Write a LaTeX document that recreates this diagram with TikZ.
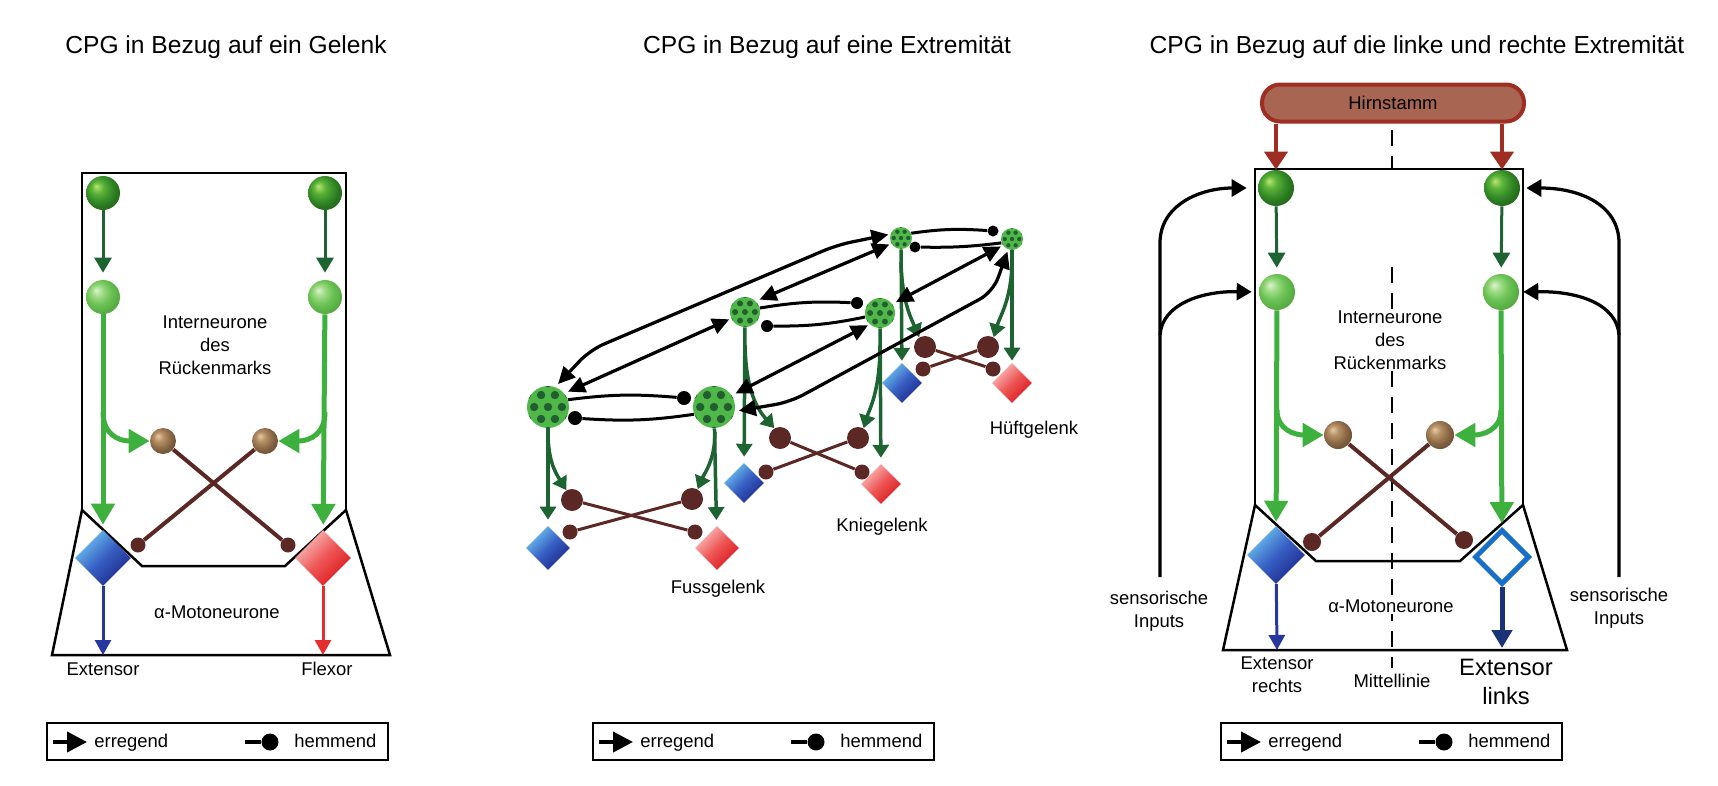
\documentclass[tikz,border=0pt]{standalone}
\usepackage{fontspec}
\setmainfont{Liberation Sans}
\usetikzlibrary{arrows.meta,shapes.geometric,positioning}

\definecolor{gdkline}{RGB}{30,100,50}
\definecolor{gltline}{RGB}{62,176,62}
\definecolor{maroon}{RGB}{92,40,38}
\definecolor{dotgr}{RGB}{80,184,72}
\definecolor{dotdk}{RGB}{34,95,48}
\definecolor{exlt}{RGB}{110,195,240}
\definecolor{exmd}{RGB}{55,95,195}
\definecolor{exdk}{RGB}{30,40,140}
\definecolor{fllt}{RGB}{250,190,190}
\definecolor{flmd}{RGB}{238,85,85}
\definecolor{fldk}{RGB}{215,25,30}
\definecolor{exline}{RGB}{40,55,160}
\definecolor{flline}{RGB}{230,45,45}
\definecolor{hirnf}{RGB}{168,102,82}
\definecolor{hirnd}{RGB}{158,45,35}
\definecolor{exout}{RGB}{25,110,200}
\definecolor{navy}{RGB}{25,50,120}

%% sphere shadings for the neurones
\pgfdeclareradialshading{sphdk}{\pgfqpoint{-10bp}{10bp}}{rgb(0bp)=(0.72,0.9,0.45); rgb(9bp)=(0.36,0.7,0.22); rgb(18bp)=(0.22,0.56,0.16); rgb(25bp)=(0.16,0.46,0.12); rgb(50bp)=(0.06,0.25,0.05)}
\pgfdeclareradialshading{sphlt}{\pgfqpoint{-10bp}{10bp}}{rgb(0bp)=(0.86,0.95,0.8); rgb(9bp)=(0.6,0.85,0.5); rgb(18bp)=(0.42,0.76,0.33); rgb(25bp)=(0.36,0.7,0.28); rgb(50bp)=(0.2,0.5,0.15)}
\pgfdeclareradialshading{sphbr}{\pgfqpoint{-10bp}{10bp}}{rgb(0bp)=(0.9,0.8,0.65); rgb(9bp)=(0.72,0.57,0.4); rgb(18bp)=(0.58,0.44,0.3); rgb(25bp)=(0.48,0.36,0.24); rgb(50bp)=(0.25,0.18,0.1)}

\begin{document}
\begin{tikzpicture}[x=0.02cm,y=-0.02cm,
    font=\fontsize{10.5}{13}\selectfont,
    ttl/.style={font=\fontsize{14}{16}\selectfont},
    lbl/.style={align=center,inner sep=1pt},
    box/.style={line width=0.05cm},
    gdark/.style={circle,inner sep=0pt,shade,shading=sphdk},
    glight/.style={circle,inner sep=0pt,shade,shading=sphlt},
    bball/.style={circle,inner sep=0pt,shade,shading=sphbr},
    mball/.style={circle,inner sep=0pt,fill=maroon,minimum size=0.44cm},
    ext/.style={diamond,aspect=1,inner sep=0pt,top color=exlt,bottom color=exdk,middle color=exmd,shading angle=45},
    flx/.style={diamond,aspect=1,inner sep=0pt,top color=fllt,bottom color=fldk,middle color=flmd,shading angle=45},
    idot/.style={circle,inner sep=0pt,fill=maroon,minimum size=0.3cm},
    bdot/.style={circle,inner sep=0pt,fill=black},
    cpg/.style={circle,inner sep=0pt,fill=dotgr},
    dkarr/.style={draw=gdkline,line width=0.06cm,-{Triangle[length=0.3cm,width=0.34cm]}},
    ltarr/.style={draw=gltline,line width=0.1cm,-{Triangle[length=0.42cm,width=0.46cm]}},
    mgarr/.style={draw=gdkline,line width=0.07cm,-{Triangle[length=0.26cm,width=0.32cm]}},
    inh/.style={draw=maroon,line width=0.08cm},
    minh/.style={draw=maroon,line width=0.06cm},
    binh/.style={draw=black,line width=0.06cm},
    dbl/.style={draw=black,line width=0.065cm,{Triangle[length=0.34cm,width=0.32cm]}-{Triangle[length=0.34cm,width=0.32cm]},shorten <=0.08cm,shorten >=0.04cm},
    exarr/.style={draw=exline,line width=0.06cm,-{Triangle[length=0.3cm,width=0.32cm]}},
    flarr/.style={draw=flline,line width=0.06cm,-{Triangle[length=0.3cm,width=0.32cm]}},
    navarr/.style={draw=navy,line width=0.1cm,-{Triangle[length=0.36cm,width=0.4cm]}},
    hirnarr/.style={draw=hirnd,line width=0.08cm,-{Triangle[length=0.36cm,width=0.46cm]}},
    sens/.style={draw=black,line width=0.065cm,-{Triangle[length=0.3cm,width=0.34cm]}},
    midl/.style={draw=black,line width=0.045cm,dash pattern=on 0.32cm off 0.2cm},
    legbox/.style={draw,line width=0.045cm,inner sep=0pt,minimum width=6.82cm,minimum height=0.74cm},
    legexc/.style={line width=0.08cm,-{Triangle[length=0.4cm,width=0.4cm]}},
    leginh/.style={line width=0.08cm}]
\useasboundingbox (0,0) rectangle (1718,785);

%% titles
\node[ttl] (t1) at (226,47) {CPG in Bezug auf ein Gelenk};
\node[ttl] (t2) at (827,47) {CPG in Bezug auf eine Extremität};
\node[ttl] (t3) at (1417,47) {CPG in Bezug auf die linke und rechte Extremität};

%% left: one joint
\draw[box] (82,510) -- (82,173) -- (346,173) -- (346,510);
\draw[box] (52,655) -- (82,510) -- (142,566) -- (285,566) -- (346,510) -- (390,655) -- cycle;
\node[gdark,minimum size=0.68cm] (Lga) at (103,193) {};
\node[gdark,minimum size=0.68cm] (Lgb) at (325,193) {};
\node[glight,minimum size=0.68cm] (Lla) at (103,297) {};
\node[glight,minimum size=0.68cm] (Llb) at (325,297) {};
\node[bball,minimum size=0.52cm] (Lba) at (163,441) {};
\node[bball,minimum size=0.52cm] (Lbb) at (265,441) {};
\node[ext,minimum size=1.12cm] (Lex) at (103,558) {};
\node[flx,minimum size=1.12cm] (Lfl) at (323,558) {};
\node[idot] (Lia) at (288,545) {};
\node[idot] (Lib) at (138,545) {};
\coordinate (Lxa) at (103,412);
\coordinate (Lxb) at (325,412);
\coordinate (Loa) at (103,655);
\coordinate (Lob) at (323,655);
\draw[dkarr,shorten >=0.14cm] (Lga) -- (Lla);
\draw[dkarr,shorten >=0.14cm] (Lgb) -- (Llb);
\draw[ltarr,shorten >=0.1cm] (Lla) -- (Lex);
\draw[ltarr,shorten >=0.1cm] (Llb) -- (Lfl);
\draw[ltarr] (Lxa) .. controls (103,434) and (118,441) .. (Lba.west);
\draw[ltarr] (Lxb) .. controls (325,434) and (310,441) .. (Lbb.east);
\draw[inh] (Lba) -- (Lia);
\draw[inh] (Lbb) -- (Lib);
\draw[exarr] (Lex) -- (Loa);
\draw[flarr] (Lfl) -- (Lob);
\node[lbl] (Lin) at (215,345) {Interneurone\\des\\Rückenmarks};
\node[lbl] (Lmo) at (217,612) {α-Motoneurone};
\node[lbl] (Lte) at (103,669) {Extensor};
\node[lbl] (Ltf) at (327,669) {Flexor};

%% middle: one limb, three joints
\foreach \n/\x/\y/\r in {A1/548/407/21,A2/714/407/21,B1/745/312/15,B2/880/313/15,C1/901/238/11,C2/1012/239/11}{
  \node[cpg,minimum size=\r*0.04cm] (\n) at (\x,\y) {};
  \begin{scope}
    \clip (\x,\y) circle [radius=\r];
    \foreach \dx/\dy in {0/0,-0.66/0,0.66/0,-0.33/-0.57,0.33/-0.57,-0.33/0.57,0.33/0.57,-1/-0.57,1/-0.57,-1/0.57,1/0.57,0/-1.14,0/1.14}
      \fill[dotdk] ({\x+(\dx)*\r},{\y+(\dy)*\r}) circle [radius=0.2*\r];
  \end{scope}
}
%% hip
\node[mball] (C1b) at (925,347) {};
\node[mball] (C2b) at (988,347) {};
\node[idot] (C1d) at (923,369) {};
\node[idot] (C2d) at (993,369) {};
\node[ext,minimum size=0.8cm] (C1e) at (902,383) {};
\node[flx,minimum size=0.8cm] (C2e) at (1012,383) {};
\coordinate (C1x) at (901,262);
\coordinate (C2x) at (1012,264);
\draw[minh] (C1b) -- (C2d);
\draw[minh] (C2b) -- (C1d);
\draw[mgarr,shorten >=0.04cm] (C1) -- (C1e);
\draw[mgarr,shorten >=0.04cm] (C2) -- (C2e);
\draw[mgarr] (C1x) .. controls (902,300) and (910,316) .. (C1b.120);
\draw[mgarr] (C2x) .. controls (1011,300) and (1000,316) .. (C2b.60);
%% knee
\node[mball] (B1b) at (780,438) {};
\node[mball] (B2b) at (858,438) {};
\node[idot] (B1d) at (766,472) {};
\node[idot] (B2d) at (862,472) {};
\node[ext,minimum size=0.8cm] (B1e) at (744,483) {};
\node[flx,minimum size=0.8cm] (B2e) at (881,484) {};
\coordinate (B1x) at (745,345);
\coordinate (B2x) at (880,345);
\draw[minh] (B1b) -- (B2d);
\draw[minh] (B2b) -- (B1d);
\draw[mgarr,shorten >=0.12cm] (B1) -- (B1e);
\draw[mgarr,shorten >=0.12cm] (B2) -- (B2e);
\draw[mgarr] (B1x) .. controls (746,392) and (758,410) .. (B1b.120);
\draw[mgarr] (B2x) .. controls (880,392) and (869,410) .. (B2b.60);
%% ankle
\node[mball] (A1b) at (572,500) {};
\node[mball] (A2b) at (692,499) {};
\node[idot] (A1d) at (570,532) {};
\node[idot] (A2d) at (695,532) {};
\node[ext,minimum size=0.88cm] (A1e) at (548,548) {};
\node[flx,minimum size=0.88cm] (A2e) at (717,548) {};
\coordinate (A1x) at (548,432);
\coordinate (A2x) at (715,432);
\draw[minh] (A1b) -- (A2d);
\draw[minh] (A2b) -- (A1d);
\draw[mgarr,shorten >=0.12cm] (A1) -- (A1e);
\draw[mgarr,shorten >=0.12cm] (A2) -- (A2e);
\draw[mgarr] (A1x) .. controls (548,460) and (555,472) .. (A1b.120);
\draw[mgarr] (A2x) .. controls (715,460) and (705,472) .. (A2b.60);
%% inhibition between the two sides
\node[bdot,minimum size=0.28cm] (A1i) at (684,398) {};
\node[bdot,minimum size=0.28cm] (A2i) at (575,418) {};
\node[bdot,minimum size=0.24cm] (B1i) at (857,303) {};
\node[bdot,minimum size=0.24cm] (B2i) at (767,326) {};
\node[bdot,minimum size=0.22cm] (C1i) at (993,231) {};
\node[bdot,minimum size=0.22cm] (C2i) at (915,247) {};
\draw[binh] (A1.20) to[bend left=6] (A1i);
\draw[binh] (A2.200) to[bend left=6] (A2i);
\draw[binh] (B1.15) to[bend left=6] (B1i);
\draw[binh] (B2.195) to[bend left=6] (B2i);
\draw[binh] (C1.25) to[bend left=6] (C1i);
\draw[binh] (C2.200) to[bend left=4] (C2i);
%% excitation between the joints
\draw[dbl,rounded corners=0.3cm] (A1.70) -- (590,350) -- (837,245) -- (C1.160);
\draw[dbl] (A1.40) -- (B1.205);
\draw[dbl] (B1.45) -- (C1.210);
\draw[dbl] (A2.33) -- (B2.228);
\draw[dbl] (B2.36) -- (C2.215);
\draw[dbl,rounded corners=0.3cm] (A2.-12) -- (790,402) -- (993,292) -- (C2.250);
\node[lbl] (Mfu) at (718,589) {Fussgelenk};
\node[lbl] (Mkn) at (882,527) {Kniegelenk};
\node[lbl] (Mhu) at (1034,430) {Hüftgelenk};

%% right: left and right limb
\draw[midl] (1392,130) -- (1392,168);
\draw[midl] (1392,267) -- (1392,668);
\node[draw=hirnd,fill=hirnf,line width=0.08cm,rounded corners=0.36cm,minimum width=5.24cm,minimum height=0.74cm] (Hs) at (1393,103) {Hirnstamm};
\draw[box] (1255,505) -- (1255,169) -- (1523,169) -- (1523,505);
\draw[box] (1223,650) -- (1255,505) -- (1316,561) -- (1460,561) -- (1523,505) -- (1567,650) -- cycle;
\node[gdark,minimum size=0.72cm] (Rga) at (1276,188) {};
\node[gdark,minimum size=0.72cm] (Rgb) at (1502,188) {};
\node[glight,minimum size=0.72cm] (Rla) at (1277,292) {};
\node[glight,minimum size=0.72cm] (Rlb) at (1501,292) {};
\node[bball,minimum size=0.56cm] (Rba) at (1338,435) {};
\node[bball,minimum size=0.56cm] (Rbb) at (1440,435) {};
\node[ext,minimum size=1.16cm] (Rex) at (1276,555) {};
\node[diamond,aspect=1,inner sep=0pt,draw=exout,fill=white,line width=0.1cm,minimum size=1.1cm] (Rxl) at (1502,557) {};
\node[idot,minimum size=0.36cm] (Ria) at (1464,540) {};
\node[idot,minimum size=0.36cm] (Rib) at (1312,542) {};
\coordinate (Rxa) at (1277,410);
\coordinate (Rxb) at (1501,410);
\coordinate (Roa) at (1277,650);
\coordinate (Rob) at (1502,648);
\draw[hirnarr] (Hs.south -| Rga) -- (Rga.north);
\draw[hirnarr] (Hs.south -| Rgb) -- (Rgb.north);
\draw[dkarr,shorten >=0.12cm] (Rga) -- (Rla);
\draw[dkarr,shorten >=0.12cm] (Rgb) -- (Rlb);
\draw[ltarr,shorten >=0.08cm] (Rla) -- (Rex);
\draw[ltarr,shorten >=0.08cm] (Rlb) -- (Rxl);
\draw[ltarr] (Rxa) .. controls (1277,430) and (1295,435) .. (Rba.west);
\draw[ltarr] (Rxb) .. controls (1501,430) and (1483,435) .. (Rbb.east);
\draw[inh] (Rba) -- (Ria);
\draw[inh] (Rbb) -- (Rib);
\draw[exarr] (Rex) -- (Roa);
\draw[navarr] (Rxl) -- (Rob);
%% sensory inputs
\coordinate (sLb) at (1160,577);
\coordinate (sLt) at (1160,243);
\coordinate (sLm) at (1160,335);
\coordinate (sRb) at (1619,577);
\coordinate (sRt) at (1619,243);
\coordinate (sRm) at (1619,335);
\draw[sens,shorten >=0.22cm] (sLb) -- (sLt) .. controls (1160,205) and (1200,188) .. (Rga.west);
\draw[sens,shorten >=0.14cm] (sLm) .. controls (1162,305) and (1200,291) .. (Rla.west);
\draw[sens,shorten >=0.12cm] (sRb) -- (sRt) .. controls (1619,205) and (1580,188) .. (Rgb.east);
\draw[sens,shorten >=0.08cm] (sRm) .. controls (1617,305) and (1580,291) .. (Rlb.east);
\node[lbl,fill=white] (Rin) at (1390,340) {Interneurone\\des\\Rückenmarks};
\node[lbl,fill=white] (Rmo) at (1391,606) {α-Motoneurone};
\node[lbl] (Rsl) at (1159,611) {sensorische\\Inputs};
\node[lbl] (Rsr) at (1619,608) {sensorische\\Inputs};
\node[lbl] (Rer) at (1277,675) {Extensor\\rechts};
\node[lbl] (Rmi) at (1392,681) {Mittellinie};
\node[lbl,font=\fontsize{13.5}{16}\selectfont] (Rel) at (1506,682) {Extensor\\links};

%% legends
\foreach \lx/\nm in {47/L,593/M,1221/R}{
  \node[legbox] (lg\nm) at (\lx+170.5,741.5) {};
  \coordinate (ea\nm) at (\lx+6,742);
  \coordinate (eb\nm) at (\lx+40,742);
  \draw[legexc] (ea\nm) -- (eb\nm);
  \node[anchor=base west,inner sep=0pt] (et\nm) at (\lx+47,747) {erregend};
  \node[bdot,minimum size=0.34cm] (hd\nm) at (\lx+223,742) {};
  \coordinate (ha\nm) at (\lx+198,742);
  \draw[leginh] (ha\nm) -- (hd\nm);
  \node[anchor=base west,inner sep=0pt] (ht\nm) at (\lx+247,747) {hemmend};
}
\end{tikzpicture}
\end{document}
